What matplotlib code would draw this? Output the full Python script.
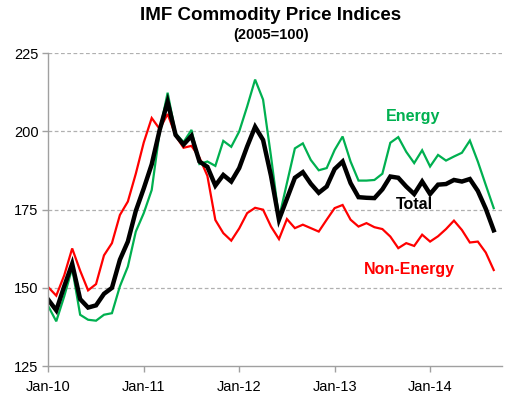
import matplotlib
matplotlib.use("Agg")
import matplotlib.pyplot as plt

plt.rcParams['font.family'] = ['Liberation Sans', 'DejaVu Sans']

# monthly index values, Jan-2010 .. Sep-2014 (2005=100)
total = [146.2, 142.8, 150.5, 157.7, 146.4, 143.7, 144.4, 148.1, 150.0, 159.0,
         164.8, 174.6, 181.8, 189.5, 200.5, 209.5, 198.9, 195.8, 198.6, 190.4,
         188.7, 182.7, 186.1, 184.0, 188.3, 195.2, 201.5, 197.3, 185.8, 171.8,
         178.5, 185.2, 187.0, 183.3, 180.4, 182.4, 188.0, 190.4, 183.5, 179.0,
         178.8, 178.7, 181.5, 185.6, 185.2, 182.4, 180.0, 184.0, 180.0, 183.0,
         183.2, 184.5, 184.0, 184.8, 181.0, 175.3, 168.4]
energy = [144.1, 139.3, 147.3, 156.3, 141.4, 139.8, 139.5, 141.4, 141.9, 150.5,
          156.8, 168.0, 173.9, 181.3, 200.0, 212.4, 199.4, 196.6, 200.5, 189.6,
          190.4, 189.0, 197.0, 195.1, 200.0, 208.0, 216.6, 210.2, 192.0, 172.3,
          183.5, 194.6, 196.2, 190.9, 187.6, 188.3, 194.1, 198.4, 190.4, 184.3,
          184.3, 184.5, 186.5, 196.4, 198.2, 193.5, 189.9, 194.0, 188.8, 192.5,
          190.7, 192.0, 193.2, 197.1, 190.4, 182.9, 175.5]
non_energy = [150.2, 147.5, 154.0, 162.6, 155.5, 149.2, 151.2, 160.4, 164.3, 173.3,
              177.6, 186.5, 196.5, 204.3, 200.8, 205.6, 198.7, 194.8, 195.4, 191.7,
              185.8, 171.7, 167.5, 165.1, 169.0, 173.9, 175.6, 175.0, 169.6, 165.6,
              172.0, 169.1, 170.2, 169.1, 168.0, 171.8, 175.5, 176.5, 171.8, 169.6,
              170.7, 169.4, 168.8, 166.4, 162.7, 164.3, 163.4, 167.0, 164.8, 166.5,
              168.8, 171.5, 168.5, 164.5, 164.8, 161.3, 155.7]

tick_labels = ['Jan-10', 'Jan-11', 'Jan-12', 'Jan-13', 'Jan-14']
yticks = [125, 150, 175, 200, 225]

months = list(range(len(total)))

fig = plt.figure(figsize=(5.07, 3.97), dpi=100)
ax = fig.add_axes([0.0953, 0.078, 0.8942, 0.7877])

green = '#00B050'
red = '#FF0000'

ax.plot(months, energy, color=green, lw=1.6, solid_joinstyle='miter')
ax.plot(months, non_energy, color=red, lw=1.6, solid_joinstyle='miter')
ax.plot(months, total, color='black', lw=3.2, solid_joinstyle='miter')

ax.set_xlim(0, 57)
ax.set_ylim(125, 225)
ax.set_yticks(yticks)
ax.set_xticks([12 * i for i in range(len(tick_labels))])
ax.set_xticklabels(tick_labels)

for v in yticks[1:]:
    ax.axhline(v, color='#B0B0B0', lw=0.9, ls=(0, (3, 2)), zorder=0)

for s in ['top', 'right']:
    ax.spines[s].set_visible(False)
for s in ['left', 'bottom']:
    ax.spines[s].set_color('#A0A0A0')
    ax.spines[s].set_linewidth(1.0)

ax.tick_params(axis='both', colors='#A0A0A0', labelcolor='black',
               labelsize=10.5, length=4, width=1.0, direction='out')
ax.tick_params(axis='x', pad=6)
ax.tick_params(axis='y', pad=3)

# series labels
ax.text(45.8, 204.7, 'Energy', color=green, fontsize=11.5,
        fontweight='bold', ha='center', va='center')
ax.text(46.0, 176.5, 'Total', color='black', fontsize=11.5,
        fontweight='bold', ha='center', va='center')
ax.text(45.4, 155.8, 'Non-Energy', color=red, fontsize=11.5,
        fontweight='bold', ha='center', va='center')

fig.text(0.5345, 0.961, 'IMF Commodity Price Indices', ha='center', va='center',
         fontsize=13.5, fontweight='bold')
fig.text(0.5345, 0.913, '(2005=100)', ha='center', va='center',
         fontsize=10.5, fontweight='bold')

fig.savefig('out.png', dpi=100)
